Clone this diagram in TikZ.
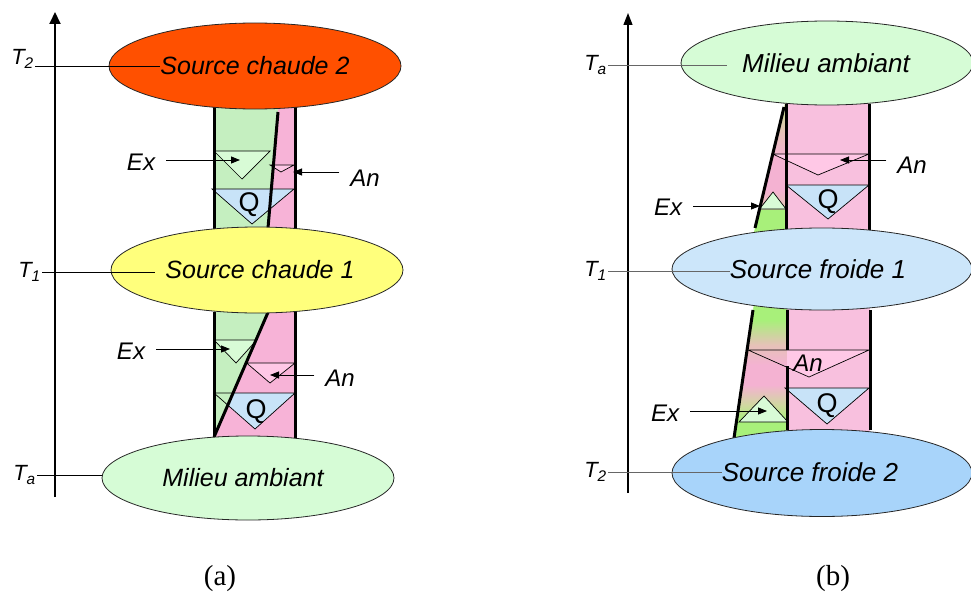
\documentclass[tikz,border=0pt]{standalone}
\usepackage{fontspec}
\setmainfont{Liberation Serif}
\setsansfont{Liberation Sans}
\usetikzlibrary{arrows.meta,shapes.geometric}
\definecolor{orangeR}{HTML}{FF5000}
\definecolor{yellowE}{HTML}{FFFF7C}
\definecolor{mambiant}{HTML}{D6FCD6}
\definecolor{sfroideA}{HTML}{CCE6FA}
\definecolor{sfroideB}{HTML}{A8D4FA}
\definecolor{cgreen}{HTML}{C5EFC0}
\definecolor{cpink}{HTML}{F7B3D7}
\definecolor{rpink}{HTML}{F8C0DE}
\definecolor{exgreen}{HTML}{D8FBD6}
\definecolor{anpink}{HTML}{FFC8E6}
\definecolor{qblue}{HTML}{C8E3F8}
\definecolor{wgreen}{HTML}{A8F07A}
\definecolor{wtanA}{HTML}{D0D8A0}
\definecolor{wtanB}{HTML}{E6C2B8}
\definecolor{wpink}{HTML}{F4B2D2}
\pgfdeclareverticalshading{wedgeTopR}{100bp}{color(0bp)=(wgreen); color(34.3bp)=(wgreen); color(34.7bp)=(wtanA); color(36.1bp)=(wtanB); color(41.7bp)=(wpink); color(54bp)=(wpink); color(63bp)=(wtanB); color(70bp)=(wtanA); color(100bp)=(wtanA)}
\pgfdeclareverticalshading{wedgeBotR}{100bp}{color(0bp)=(wgreen); color(33.6bp)=(wgreen); color(38.8bp)=(wtanA); color(45.7bp)=(wpink); color(52.6bp)=(wpink); color(59.5bp)=(wtanB); color(68.1bp)=(wgreen); color(100bp)=(wgreen)}
\begin{document}
\begin{tikzpicture}[x=1pt,y=-1pt,
  colline/.style={line width=3pt},
  tri/.style={draw=black,line width=0.7pt,line join=miter},
  oval/.style={ellipse,draw=black!85,line width=0.8pt,inner sep=0pt},
  bigtxt/.style={font=\sffamily\itshape\fontsize{25}{30}\selectfont,inner sep=0pt},
  bigtxtR/.style={font=\sffamily\itshape\fontsize{26}{30}\selectfont,inner sep=0pt},
  lab/.style={font=\sffamily\itshape\fontsize{24}{28}\selectfont,inner sep=0pt,outer xsep=11pt},
  qlab/.style={font=\sffamily\fontsize{27}{30}\selectfont,inner sep=0pt},
  tlab/.style={font=\sffamily\itshape\fontsize{22}{26}\selectfont,inner sep=1pt,anchor=east},
  tline/.style={line width=0.8pt},
  tlineR/.style={line width=0.7pt,draw=black!60},
  arr/.style={-{Triangle[length=9pt,width=7pt]},line width=0.8pt},
  capt/.style={font=\rmfamily\fontsize{29}{32}\selectfont,inner sep=0pt}
]
\useasboundingbox (0,0) rectangle (971,594);

% ===== (a) columns =====
% upper column
\fill[cgreen] (214,100) -- (279,100) -- (267.4,235) -- (214,235) -- cycle;
\fill[cpink] (279,100) -- (295,100) -- (295,235) -- (267.4,235) -- cycle;
\filldraw[tri,fill=exgreen] (214,151) -- (270,151) -- (242,179) -- cycle;
\filldraw[tri,fill=anpink] (270,165) -- (294,165) -- (281,172) -- cycle;
\filldraw[tri,fill=qblue] (212,189) -- (294,189) -- (252,224) -- cycle;
\draw[colline] (214,104) -- (214,232);
\draw[colline] (295,104) -- (295,232);
\draw[colline] (278,112) -- (268,228);
% lower column
\fill[cgreen] (214,300) -- (274.3,300) -- (214,437.5) -- cycle;
\fill[cpink] (274.3,300) -- (295,300) -- (295,445) -- (214,445) -- (214,437.5) -- cycle;
\filldraw[tri,fill=exgreen] (214,340) -- (256.7,340) -- (236,363) -- cycle;
\filldraw[tri,fill=anpink] (246.6,363) -- (295,363) -- (270,383) -- cycle;
\fill[qblue] (233.4,393) -- (295,393) -- (255,429) -- (228,405.3) -- cycle;
\draw[tri] (214,393) -- (295,393) -- (255,429) -- cycle;
\draw[colline] (214,312) -- (214,440);
\draw[colline] (295,312) -- (295,440);
\draw[colline] (269,310) -- (214,437);

% ===== (b) columns =====
% upper column
\fill[rpink] (786,100) rectangle (869,235);
\shade[shading=wedgeTopR] (785.7,100) -- (786,100) -- (786,235) -- (753.3,235) -- cycle;
\filldraw[tri,fill=anpink] (772.7,154) -- (869,154) -- (818,175) -- cycle;
\filldraw[tri,fill=qblue] (786,185) -- (869,185) -- (828,219) -- cycle;
\filldraw[tri,fill=exgreen] (759.5,209) -- (786,209) -- (773,192) -- cycle;
\draw[colline] (786,104) -- (786,230);
\draw[colline] (869,104) -- (869,230);
\draw[colline] (784,107) -- (755,228);
% lower column
\fill[rpink] (787,300) rectangle (870,445);
\shade[shading=wedgeBotR] (754.5,300) -- (787,300) -- (787,445) -- (733,445) -- cycle;
\fill[anpink] (787,350) -- (869,350) -- (809,377) -- (787,367.1) -- cycle;
\draw[tri] (748,350) -- (869,350) -- (809,377) -- cycle;
\filldraw[tri,fill=qblue] (785,388) -- (869,388) -- (827,424) -- cycle;
\filldraw[tri,fill=exgreen] (739,422) -- (788,422) -- (764,396) -- cycle;
\draw[colline] (787,310) -- (787,350);
\draw[colline] (787,366) -- (787,430);
\draw[colline] (870,310) -- (870,430);
\draw[colline] (753,310) -- (734,438);

% ===== ellipses =====
\node[oval,fill=orangeR,minimum width=292pt,minimum height=86pt] (sc2) at (255,66) {};
\node[oval,fill=yellowE,minimum width=292pt,minimum height=86pt] (sc1) at (257,270) {};
\node[oval,fill=mambiant,minimum width=292pt,minimum height=84pt] (maA) at (248,478) {};
\node[oval,fill=mambiant,minimum width=292pt,minimum height=84pt] (maB) at (827,63) {};
\node[oval,fill=sfroideA,minimum width=300pt,minimum height=82pt] (sf1) at (822,269) {};
\node[oval,fill=sfroideB,minimum width=300pt,minimum height=87pt] (sf2) at (822,473) {};

% ===== texts =====
\node[bigtxt] (sc2t) at (255,66) {Source chaude 2};
\node[bigtxt] (sc1t) at (260,270) {Source chaude 1};
\node[bigtxt] (maAt) at (243,478) {Milieu ambiant};
\node[bigtxtR] (maBt) at (826,63) {Milieu ambiant};
\node[bigtxtR] (sf1t) at (818,269) {Source froide 1};
\node[bigtxtR] (sf2t) at (810,472) {Source froide 2};

\node[qlab] (QL1) at (249,205) {Q};
\node[qlab] (QL2) at (256,412) {Q};
\node[qlab] (QR1) at (828,202) {Q};
\node[qlab] (QR2) at (827,406) {Q};
\node[font=\sffamily\itshape\fontsize{24}{28}\selectfont,inner sep=0pt] (AnR2) at (808,363) {An};

\node[lab] (ExL1) at (141,162) {Ex};
\node[lab] (AnL1) at (365,178) {An};
\node[lab] (ExL2) at (131,351) {Ex};
\node[lab] (AnL2) at (340,378) {An};
\node[lab] (AnR1) at (912,165) {An};
\node[lab] (ExR1) at (668,207) {Ex};
\node[lab] (ExR2) at (665,413) {Ex};

% ===== axes =====
\draw[line width=2pt,-{Triangle[length=12pt,width=11pt]}] (55,497) -- (55,12);
\draw[line width=1.2pt,-{Triangle[length=12pt,width=9pt]}] (628,493) -- (628,13);

% ===== temperature labels and lines =====
\node[tlab,anchor=base east] (T2a) at (35,65) {T\textsubscript{2}};
\node[tlab] (T1a) at (42,272) {T\textsubscript{1}};
\node[tlab] (Taa) at (37,475) {T\textsubscript{a}};
\node[tlab] (TaR) at (608,65) {T\textsubscript{a}};
\node[tlab] (T1R) at (608,271) {T\textsubscript{1}};
\node[tlab] (T2R) at (608,472) {T\textsubscript{2}};

\draw[tline] (T2a.base east) ++(0,1) -- (sc2t.west |- sc2);
\draw[tline,shorten >=10pt] (T1a.east) -- (sc1t.west |- T1a.east);
\draw[tline] (Taa.east) -- (maA.west |- Taa.east);
\draw[tlineR,shorten >=15pt] (TaR.east) -- (maBt.west |- TaR.east);
\draw[tlineR] (T1R.east) -- (sf1t.west |- T1R.east);
\draw[tlineR] (T2R.east) -- (sf2t.west |- T2R.east);

% ===== arrows =====
\coordinate (tExL1) at (240,160);
\coordinate (tAnL1) at (293,172);
\coordinate (tExL2) at (230,349);
\coordinate (tAnL2) at (270,375);
\coordinate (tAnR1) at (840,160);
\coordinate (tExR1) at (760,206);
\coordinate (tExR2) at (767,411);
\draw[arr] (ExL1.east |- tExL1) -- (tExL1);
\draw[arr] (AnL1.west |- tAnL1) -- (tAnL1);
\draw[arr] (ExL2.east |- tExL2) -- (tExL2);
\draw[arr] (AnL2.west |- tAnL2) -- (tAnL2);
\draw[arr] (AnR1.west |- tAnR1) -- (tAnR1);
\draw[arr] (ExR1.east |- tExR1) -- (tExR1);
\draw[arr] (ExR2.east |- tExR2) -- (tExR2);

% ===== captions =====
\node[capt] (capA) at (220,579) {(a)};
\node[capt] (capB) at (833,579) {(b)};
\end{tikzpicture}
\end{document}
